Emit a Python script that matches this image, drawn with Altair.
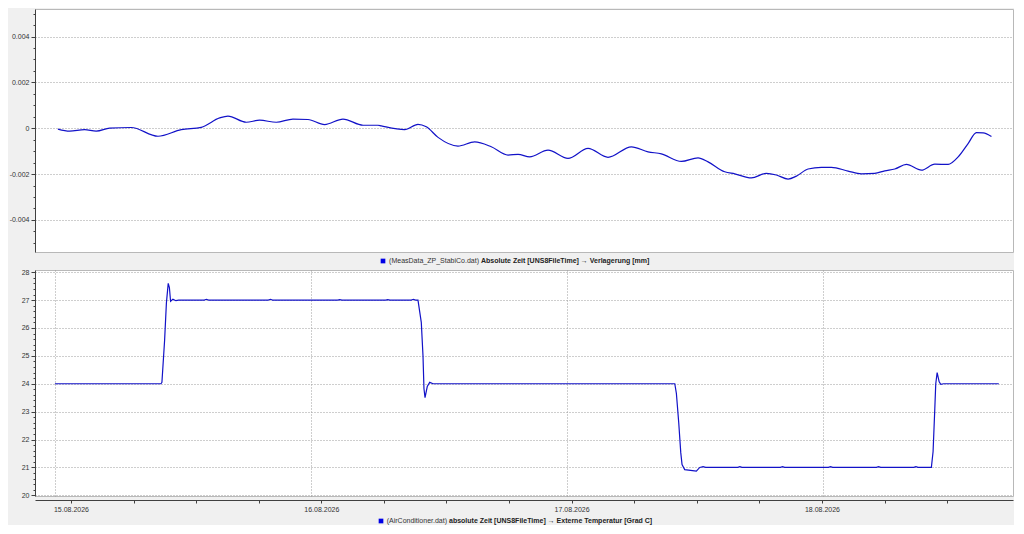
import altair as alt
import pandas as pd

# ---------------- data ----------------
START = pd.Timestamp("2026-08-15 00:00:00")

# Verlagerung [mm] (values in 1e-3 mm), time in hours after 15.08.2026 00:00
disp_hours = [0.28, 1.38, 2.78, 3.87, 5.13, 7.15, 9.66, 11.84, 13.72, 15.44, 16.22,
              17.93, 19.19, 20.75, 22.31, 23.72, 25.28, 27.0, 28.88, 30.28, 30.59,
              32.78, 34.03, 34.81, 35.91, 37.78, 39.34, 40.90, 42.47, 43.41, 44.50,
              46.22, 48.09, 49.97, 51.84, 54.03, 55.59, 56.84, 58.72, 60.28, 61.22,
              62.78, 63.72, 65.28, 66.68, 67.62, 68.72, 69.50, 70.59, 71.84, 72.78,
              74.34, 75.59, 76.84, 77.78, 78.72, 79.81, 81.22, 82.47, 83.72, 84.66,
              85.59, 86.37, 87.0, 87.78]
disp_um = [-0.04, -0.13, -0.06, -0.13, 0.00, 0.03, -0.35, -0.06, 0.04, 0.45, 0.53,
           0.26, 0.35, 0.26, 0.40, 0.38, 0.16, 0.40, 0.13, 0.13, 0.10,
           -0.06, 0.17, 0.06, -0.40, -0.78, -0.60, -0.81, -1.17, -1.14, -1.25,
           -0.96, -1.32, -0.88, -1.27, -0.81, -1.03, -1.12, -1.45, -1.29, -1.47,
           -1.90, -1.99, -2.17, -1.97, -2.04, -2.22, -2.09, -1.78, -1.71, -1.71,
           -1.87, -1.99, -1.97, -1.86, -1.78, -1.58, -1.83, -1.57, -1.58, -1.25,
           -0.67, -0.19, -0.20, -0.36]

# Externe Temperatur [Grad C]
temp_hours = [0.0, 9.94, 10.03, 10.28, 10.45, 10.62, 10.73, 10.84, 11.06, 11.34, 11.6,
              14.0, 14.2, 14.4, 20.0, 20.2, 20.4, 26.5, 26.7, 26.9, 31.0, 31.2, 31.4,
              33.4, 33.6, 33.8, 34.03, 34.34, 34.5, 34.59, 34.69, 34.9, 35.13, 35.44,
              58.1, 58.25, 58.47, 58.66, 58.78, 59.03, 60.12, 60.44, 60.75, 61.0,
              64.0, 64.2, 64.4, 68.0, 68.2, 68.4, 72.5, 72.7, 72.9, 77.0, 77.2, 77.4,
              80.5, 80.7, 80.9, 82.15, 82.31, 82.47, 82.56, 82.69, 82.88, 83.03, 83.3,
              88.47]
temp_c = [24.0, 24.0, 24.05, 25.55, 26.9, 27.6, 27.45, 26.96, 27.03, 26.98, 27.0,
          27.0, 27.03, 27.0, 27.0, 27.03, 27.0, 27.0, 27.02, 27.0, 27.0, 27.02, 27.0,
          27.0, 27.03, 27.0, 27.0, 26.2, 25.0, 23.83, 23.5, 23.9, 24.05, 24.0,
          24.0, 23.65, 22.6, 21.53, 21.1, 20.92, 20.87, 21.0, 21.03, 21.0,
          21.0, 21.03, 21.0, 21.0, 21.03, 21.0, 21.0, 21.03, 21.0, 21.0, 21.03, 21.0,
          21.0, 21.03, 21.0, 21.0, 21.57, 23.1, 24.0, 24.4, 24.07, 23.98, 24.0,
          24.0]

top_major_ticks = [-0.004, -0.002, 0.0, 0.002, 0.004]
top_minor_ticks = [-0.005, -0.0045, -0.004, -0.0035, -0.003, -0.0025, -0.002, -0.0015,
                   -0.001, -0.0005, 0.0, 0.0005, 0.001, 0.0015, 0.002, 0.0025, 0.003,
                   0.0035, 0.004, 0.0045, 0.005]
bot_major_ticks = [20, 21, 22, 23, 24, 25, 26, 27, 28]
bot_minor_ticks = [round(20 + 0.2 * i, 1) for i in range(41)]

legend_top = ["(MeasData_ZP_StabiCo.dat)", "Absolute Zeit [UNS8FileTime] \u2192 Verlagerung [mm]"]
legend_bot = ["(AirConditioner.dat)", "absolute Zeit [UNS8FileTime] \u2192 Externe Temperatur [Grad C]"]


def to_time(hours):
    return [(START + pd.Timedelta(hours=h)).strftime("%Y-%m-%dT%H:%M:%S") for h in hours]


disp = pd.DataFrame({"t": to_time(disp_hours), "v": [x / 1000.0 for x in disp_um]})
temp = pd.DataFrame({"t": to_time(temp_hours), "v": temp_c})
one = pd.DataFrame({"k": [0]})

# ---------------- styling ----------------
W = 978
H1 = 243
H2 = 226
BLUE = "#1212c8"
FONT = "Liberation Sans"
GRID = "#9c9c9c"
AXC = "#404040"

def dt(d, h=0, m=0):
    return alt.DateTime(year=2026, month=8, date=d, hours=h, minutes=m)

grid_dom = [dt(14, 22, 8), dt(18, 17, 48)]
lab_dom = [dt(14, 20, 33), dt(18, 18, 19)]
day_vals = [dt(15), dt(16), dt(17), dt(18)]
six_h_vals = [dt(d, h) for d in (15, 16, 17) for h in (0, 6, 12, 18)] + [dt(18, 0), dt(18, 6), dt(18, 12)]

x_grid_axis = alt.Axis(orient="bottom", values=day_vals, labels=False, ticks=False,
                       domain=False, grid=True, gridColor=GRID, gridDash=[1, 2],
                       gridOpacity=1, title=None)

x_label_axis = alt.Axis(orient="bottom", values=six_h_vals, grid=False, offset=4,
                        domainColor=AXC, domainWidth=1.2, tickColor=AXC, tickSize=3,
                        labelPadding=2, labelFont=FONT, labelFontSize=7, labelColor="#333333",
                        labelOverlap=False, title=None,
                        labelExpr="hours(datum.value) == 0 ? timeFormat(datum.value, '%d.%m.%Y') : ''")

def major_axis(vals, expr):
    return alt.Axis(orient="left", values=vals, grid=True, gridColor=GRID, gridDash=[1, 2],
                    gridOpacity=1, domainColor=AXC, tickColor=AXC, tickSize=4, labelPadding=2,
                    labelFont=FONT, labelFontSize=7, labelColor="#333333", title=None,
                    labelExpr=expr)

def minor_axis(vals):
    return alt.Axis(orient="left", values=vals, grid=False, domain=False, labels=False,
                    tickColor=AXC, tickSize=2, title=None)

top_expr = "(datum.value < 0 ? '-' : '') + format(abs(datum.value), '.3~f')"
bot_expr = "format(datum.value, 'd')"

top_yscale = alt.Scale(domain=[-0.0054, 0.0052], nice=False, zero=False)
bot_yscale = alt.Scale(domain=[19.975, 28.08], nice=False, zero=False)

# ---------------- top panel ----------------
top_line = alt.Chart(disp).mark_line(color=BLUE, strokeWidth=1.2, interpolate="monotone").encode(
    x=alt.X("t:T", scale=alt.Scale(domain=grid_dom), axis=x_grid_axis),
    y=alt.Y("v:Q", scale=top_yscale, axis=major_axis(top_major_ticks, top_expr)),
)
top_minor = alt.Chart(disp).mark_line(opacity=0).encode(
    x=alt.X("t:T", scale=alt.Scale(domain=grid_dom), axis=None),
    y=alt.Y("v:Q", scale=top_yscale, axis=minor_axis(top_minor_ticks)),
)

def legend_layers(texts, sq_x, split_x, y):
    sq = alt.Chart(one).mark_square(color="#0000e6", size=22, opacity=1).encode(
        x=alt.value(sq_x), y=alt.value(y))
    t1 = alt.Chart(one).mark_text(font=FONT, fontSize=7, color="#333333", align="right",
                                  baseline="middle").encode(
        x=alt.value(split_x - 2), y=alt.value(y), text=alt.value(texts[0]))
    t2 = alt.Chart(one).mark_text(font=FONT, fontSize=7, fontWeight="bold", color="#222222",
                                  align="left", baseline="middle").encode(
        x=alt.value(split_x), y=alt.value(y), text=alt.value(texts[1]))
    return [sq, t1, t2]

top = alt.layer(top_line, top_minor, *legend_layers(legend_top, 348, 446, H1 + 9)).resolve_axis(
    y="independent").properties(width=W, height=H1)

# ---------------- bottom panel ----------------
bot_line = alt.Chart(temp).mark_line(color=BLUE, strokeWidth=1.2).encode(
    x=alt.X("t:T", scale=alt.Scale(domain=grid_dom), axis=x_grid_axis),
    y=alt.Y("v:Q", scale=bot_yscale, axis=major_axis(bot_major_ticks, bot_expr)),
)
bot_minor = alt.Chart(temp).mark_line(opacity=0).encode(
    x=alt.X("t:T", scale=alt.Scale(domain=grid_dom), axis=None),
    y=alt.Y("v:Q", scale=bot_yscale, axis=minor_axis(bot_minor_ticks)),
)
bot_xlab = alt.Chart(temp).mark_line(opacity=0).encode(
    x=alt.X("t:T", scale=alt.Scale(domain=lab_dom), axis=x_label_axis),
    y=alt.Y("v:Q", scale=bot_yscale, axis=None),
)

bottom = alt.layer(bot_line, bot_minor, bot_xlab,
                   *legend_layers(legend_bot, 346, 414, H2 + 25)).resolve_scale(
    x="independent").resolve_axis(y="independent").properties(width=W, height=H2)

chart = alt.vconcat(top, bottom, spacing=18, bounds="flush").properties(
    padding={"left": 0, "top": 0, "right": 0, "bottom": 0},
    background="#f0f0f0",
).configure_view(fill="white", stroke="#b8b8b8", strokeWidth=1)

chart.save("out.html", embed_options={"renderer": "svg", "actions": False})
